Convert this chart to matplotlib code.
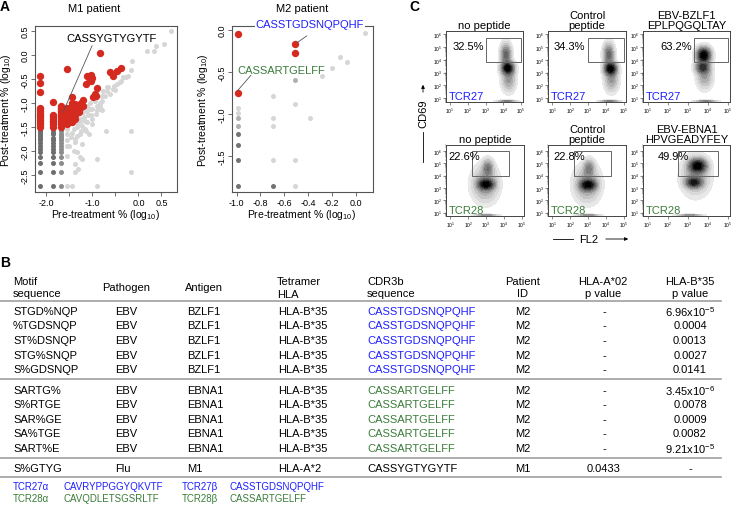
import numpy as np
import matplotlib
matplotlib.use('Agg')
import matplotlib.pyplot as plt
from matplotlib.patches import Rectangle
from matplotlib.ticker import LogLocator, NullFormatter

plt.rcParams['font.family'] = ['Liberation Sans', 'DejaVu Sans']
plt.rcParams['axes.unicode_minus'] = False
plt.rcParams['mathtext.fontset'] = 'custom'
plt.rcParams['mathtext.rm'] = 'Liberation Sans'
plt.rcParams['mathtext.it'] = 'Liberation Sans:italic'
plt.rcParams['mathtext.bf'] = 'Liberation Sans:bold'

W, H = 739, 506
RED = '#d42a20'
BLUE = '#1f1fff'
GREEN = '#3b7d3b'

#----------Panel A: M1 patient (log10 %)----------#
m1_red_pre = [-2.15] * 14 + [-1.85] * 8 + [-1.68] * 12 + [-1.55] * 8 + [-1.45] * 7 + [-1.37] * 5 \
    + [-1.30] * 3 + [-1.25, -1.25, -1.20, -1.20, -1.15, -1.11, -1.07, -1.04, -1.04, -1.00,
                     -0.98, -0.93, -0.90, -0.94, -0.84, -0.62, -0.55, -0.47, -0.38]
m1_red_post = [-0.44, -0.58, -0.77, -1.10, -1.13, -1.16, -1.20, -1.24, -1.28, -1.31, -1.35, -1.40, -1.44, -1.49,
               -0.98, -1.25, -1.29, -1.33, -1.37, -1.40, -1.44, -1.49,
               -1.06, -1.10, -1.13, -1.16, -1.20, -1.24, -1.28, -1.31, -1.35, -1.40, -1.44, -1.49,
               -0.29, -1.10, -1.20, -1.28, -1.33, -1.37, -1.40, -1.44,
               -0.88, -0.99, -1.06, -1.13, -1.24, -1.33, -1.40,
               -1.02, -1.09, -1.16, -1.26, -1.33,
               -1.06, -1.12, -1.19,
               -0.99, -1.09, -0.93, -1.06, -0.60, -0.43, -0.47, -0.42, -0.54, -0.47,
               -0.88, -0.86, -0.68, -0.82, 0.04, -0.36, -0.43, -0.33, -0.28]

m1_dark_pre = [-2.15] * 15 + [-1.85] * 13
m1_dark_post = [-1.55, -1.58, -1.61, -1.65, -1.69, -1.73, -1.78, -1.83, -1.89, -1.95, -2.03, -2.13, -2.25, -2.43, -2.73,
                -1.55, -1.61, -1.65, -1.73, -1.78, -1.83, -1.89, -1.95, -2.03, -2.13, -2.25, -2.43, -2.73]
m1_mid_pre = [-1.68] * 14
m1_mid_post = [-1.55, -1.58, -1.65, -1.69, -1.73, -1.78, -1.83, -1.89, -1.95, -2.03, -2.13, -2.25, -2.43, -2.73]

m1_light_pre = [-1.55, -1.55, -1.55, -1.55, -1.55, -1.55, -1.45, -1.45, -1.47, -1.51, -1.40, -1.40,
                -1.37, -1.37, -1.38, -1.38, -1.33, -1.33, -1.33, -1.31, -1.31, -1.27, -1.27, -1.27,
                -1.26, -1.26, -1.22, -1.22, -1.22, -1.20, -1.18, -1.18, -1.16, -1.16, -1.15, -1.13,
                -1.11, -1.11, -1.09, -1.08, -1.05, -1.05, -1.04, -1.02, -1.00, -1.00, -0.95, -0.93,
                -0.91, -0.90, -0.90, -0.91, -0.84, -0.84, -0.82, -0.80, -0.80, -0.79, -0.77, -0.73,
                -0.71, -0.69, -0.69, -0.66, -0.62, -0.55, -0.53, -0.51, -0.46, -0.40, -0.37, -0.33,
                -0.27, -0.22, -0.16, -0.15, -0.16, -0.16, 0.18, 0.34, 0.37, 0.55, 0.71]
m1_light_post = [-1.55, -1.65, -1.78, -1.89, -2.10, -2.73, -2.73, -1.62, -1.71, -1.89, -1.54, -1.99,
                 -1.82, -2.44, -1.75, -2.27, -1.51, -1.68, -2.03, -1.44, -2.38, -1.33, -1.65, -2.13,
                 -1.37, -1.58, -1.47, -1.85, -2.17, -1.19, -1.09, -1.30, -1.37, -1.54, -1.58, -1.06,
                 -1.16, -1.40, -1.26, -1.65, -0.99, -1.13, -1.26, -1.33, -1.13, -1.44, -0.95, -1.23,
                 -1.14, -1.06, -2.17, -2.73, -0.99, -1.04, -1.13, -0.85, -0.95, -1.15, -0.74, -0.85,
                 -1.59, -0.67, -0.74, -0.67, -0.81, -0.71, -0.64, -0.73, -0.60, -0.57, -0.54, -0.46,
                 -0.46, -0.43, -0.31, -0.12, -1.59, -2.43, 0.08, 0.08, 0.19, 0.22, 0.51]

#----------Panel A: M2 patient (log10 %)----------#
m2_red_pre = [-0.99, -0.51, -0.51, -0.99]
m2_red_post = [-0.05, -0.17, -0.27, -0.75]
m2_dark_pre = [-0.99, -0.99, -0.99, -0.99, -0.69]
m2_dark_post = [-1.24, -1.37, -1.55, -1.86, -1.86]
m2_mid_pre = [-0.99, -0.99, -0.51]
m2_mid_post = [-1.14, -1.05, -0.60]
m2_light_pre = [-0.99, -0.99, -0.69, -0.69, -0.69, -0.69, -0.51, -0.51, -0.51, -0.38, -0.28, -0.20, -0.13, -0.07, 0.08]
m2_light_post = [-0.93, -0.99, -0.79, -1.05, -1.14, -1.55, -0.88, -1.55, -1.86, -1.05, -0.55, -0.45, -0.32, -0.38, -0.04]

#----------Panel C: flow plots----------#
flow_titles = ['no peptide', 'Control\npeptide', 'EBV-BZLF1\nEPLPQGQLTAY',
               'no peptide', 'Control\npeptide', 'EBV-EBNA1\nHPVGEADYFEY']
flow_pcts = ['32.5%', '34.3%', '63.2%', '22.6%', '22.8%', '49.9%']
flow_tcr = ['TCR27', 'TCR27', 'TCR27', 'TCR28', 'TCR28', 'TCR28']
gate_x0 = [3.05, 3.0, 3.3, 2.2, 2.2, 2.5]
gate_x1 = [5.0, 5.0, 5.0, 4.3, 4.3, 4.5]
gate_y0 = [3.8, 3.8, 3.8, 4.0, 4.0, 4.0]
gate_y1 = [5.75, 5.75, 5.75, 6.0, 6.0, 6.0]
# density blobs (log10 FL2, log10 CD69, spread x, spread y, weight)
blob_panel = [0, 0, 0, 0, 1, 1, 1, 1, 2, 2, 2, 2, 3, 3, 3, 3, 4, 4, 4, 4, 5, 5, 5, 5]
blob_x = [4.25, 4.15, 4.3, 4.2, 4.25, 4.15, 4.3, 4.2, 3.8, 3.75, 3.85, 3.9,
          3.0, 2.95, 3.1, 3.0, 3.0, 2.95, 3.05, 3.0, 3.5, 3.3, 3.4, 3.1]
blob_y = [3.35, 4.4, 2.5, 0.76, 3.3, 4.4, 2.5, 0.76, 4.35, 3.4, 2.7, 0.76,
          3.3, 3.3, 4.6, 0.8, 3.25, 3.3, 4.6, 0.8, 4.8, 3.45, 4.0, 0.8]
blob_sx = [0.2, 0.17, 0.22, 0.3, 0.2, 0.17, 0.22, 0.3, 0.2, 0.2, 0.22, 0.3,
           0.26, 0.4, 0.18, 0.35, 0.26, 0.4, 0.18, 0.35, 0.25, 0.24, 0.38, 0.35]
blob_sy = [0.28, 0.5, 0.55, 0.04, 0.28, 0.5, 0.55, 0.04, 0.35, 0.28, 0.55, 0.04,
           0.26, 0.8, 0.4, 0.04, 0.26, 0.8, 0.4, 0.04, 0.32, 0.25, 0.85, 0.04]
blob_w = [1.0, 0.45, 0.25, 0.35, 1.0, 0.45, 0.25, 0.35, 1.0, 0.6, 0.2, 0.3,
          1.0, 0.3, 0.4, 0.35, 1.0, 0.3, 0.35, 0.35, 1.0, 0.75, 0.25, 0.3]

#----------Panel B: table----------#
motifs = ['STGD%NQP', '%TGDSNQP', 'ST%DSNQP', 'STG%SNQP', 'S%GDSNQP',
          'SARTG%', 'S%RTGE', 'SAR%GE', 'SA%TGE', 'SART%E', 'S%GTYG']
pathogens = ['EBV'] * 10 + ['Flu']
antigens = ['BZLF1'] * 5 + ['EBNA1'] * 5 + ['M1']
tetramers = ['HLA-B*35'] * 10 + ['HLA-A*2']
cdr3b = ['CASSTGDSNQPQHF'] * 5 + ['CASSARTGELFF'] * 5 + ['CASSYGTYGYTF']
patients = ['M2'] * 10 + ['M1']
hla_a02 = ['-'] * 10 + ['0.0433']
hla_b35 = ['6.96x10$^{-5}$', '0.0004', '0.0013', '0.0027', '0.0141',
           '3.45x10$^{-6}$', '0.0078', '0.0009', '0.0082', '9.21x10$^{-5}$', '-']
tcr_alpha = ['TCR27\u03b1', 'TCR28\u03b1']
cdr3_alpha = ['CAVRYPPGGYQKVTF', 'CAVQDLETSGSRLTF']
tcr_beta = ['TCR27\u03b2', 'TCR28\u03b2']
cdr3_beta = ['CASSTGDSNQPQHF', 'CASSARTGELFF']


fig = plt.figure(figsize=(W / 100, H / 100), dpi=100)


def fp(x, y):
    return x / W, 1 - y / H


def axes_px(x0, y0, x1, y1):
    return fig.add_axes([x0 / W, 1 - y1 / H, (x1 - x0) / W, (y1 - y0) / H])


def txt(x, y, s, **kw):
    kw.setdefault('va', 'center')
    kw.setdefault('fontsize', 8)
    fig.text(*fp(x, y), s, **kw)


def r_axes(ax, xt, xl, yt):
    for s in ax.spines.values():
        s.set_color('#555555')
        s.set_linewidth(0.8)
    ax.tick_params(direction='out', length=3, width=0.6, color='#555555', labelsize=6.5, pad=1)
    ax.set_xticks(xt)
    ax.set_xticklabels(xl)
    ax.set_yticks(yt)
    ax.set_yticklabels(['%.1f' % v for v in yt], rotation=90, va='center')


# Panel letters
txt(5, 7, 'A', fontsize=10, fontweight='bold', ha='center')
txt(414, 7, 'C', fontsize=10, fontweight='bold', ha='center')
txt(5, 263, 'B', fontsize=10, fontweight='bold', ha='center')

#----------M1 scatter----------#
ax1 = axes_px(35, 27, 177, 193)
ax1.scatter(m1_light_pre, m1_light_post, s=13, color='#d6d6d6', lw=0, zorder=1)
ax1.scatter(m1_mid_pre, m1_mid_post, s=13, color='#8c8c8c', lw=0, zorder=2)
ax1.scatter(m1_dark_pre, m1_dark_post, s=13, color='#6e6e6e', lw=0, zorder=2)
ax1.scatter(m1_red_pre, m1_red_post, s=28, color=RED, lw=0, zorder=3)
ax1.set_xlim(-2.25, 0.837)
ax1.set_ylim(-2.854, 0.604)
r_axes(ax1, [-2.0, -1.5, -1.0, -0.5, 0.0, 0.5], ['-2.0', '', '-1.0', '', '0.0', '0.5'],
       [-2.5, -2.0, -1.5, -1.0, -0.5, 0.0, 0.5])
ax1.plot([-1.01, -1.64], [0.19, -1.19], color='#555555', lw=0.6, zorder=4)
ax1.text(-0.58, 0.35, 'CASSYGTYGYTF', fontsize=8, ha='center', va='center', zorder=5)
txt(94.5, 9, 'M1 patient', ha='center')
txt(106, 215, 'Pre-treatment % (log$_{10}$)', ha='center', fontsize=7.5)
txt(6, 110, 'Post-treatment % (log$_{10}$)', ha='center', rotation=90, fontsize=7.5)

#----------M2 scatter----------#
ax2 = axes_px(232, 27, 373, 193)
ax2.scatter(m2_light_pre, m2_light_post, s=13, color='#d6d6d6', lw=0, zorder=1)
ax2.scatter(m2_mid_pre, m2_mid_post, s=13, color='#b0b0b0', lw=0, zorder=2)
ax2.scatter(m2_dark_pre, m2_dark_post, s=13, color='#737373', lw=0, zorder=2)
ax2.scatter(m2_red_pre, m2_red_post, s=28, color=RED, lw=0, zorder=3)
ax2.set_xlim(-1.038, 0.147)
ax2.set_ylim(-1.929, 0.048)
r_axes(ax2, [-1.0, -0.8, -0.6, -0.4, -0.2, 0.0], ['-1.0', '-0.8', '-0.6', '-0.4', '-0.2', '0.0'],
       [-1.5, -1.0, -0.5, 0.0])
ax2.plot([-0.41, -0.49], [-0.07, -0.15], color='#555555', lw=0.6, zorder=4)
ax2.plot([-0.88, -0.99], [-0.54, -0.72], color='#555555', lw=0.6, zorder=4)
ax2.text(-0.84, 0.075, 'CASSTGDSNQPQHF', fontsize=8, color=BLUE, ha='left', va='center', zorder=5,
         clip_on=False, bbox=dict(facecolor='white', edgecolor='none', pad=0.5))
ax2.text(-0.99, -0.48, 'CASSARTGELFF', fontsize=8, color=GREEN, ha='left', va='center', zorder=5)
txt(302, 9, 'M2 patient', ha='center')
txt(302, 215, 'Pre-treatment % (log$_{10}$)', ha='center', fontsize=7.5)
txt(203, 110, 'Post-treatment % (log$_{10}$)', ha='center', rotation=90, fontsize=7.5)

#----------Panel C: flow density plots----------#
panel_boxes = [(446, 32, 523, 103), (548, 32, 626, 103), (643, 32, 730, 103),
               (446, 146, 524, 217), (548, 146, 626, 217), (643, 146, 730, 217)]
ylims = [(0.69, 6.26)] * 3 + [(0.73, 6.49)] * 3
gx = np.linspace(0.6, 5.3, 260)
gy = np.linspace(0.5, 6.6, 300)
GX, GY = np.meshgrid(gx, gy)
pct_x = [0.09, 0.07, 0.2, 0.03, 0.065, 0.17]
levels = [0.12, 0.2, 0.28, 0.36, 0.44, 0.52, 0.6, 0.68, 0.76, 0.84, 0.92, 1.01]

for i, (x0, y0, x1, y1) in enumerate(panel_boxes):
    ax = axes_px(x0, y0, x1, y1)
    Z = np.zeros_like(GX)
    for p, bx, by, sx, sy, w in zip(blob_panel, blob_x, blob_y, blob_sx, blob_sy, blob_w):
        if p == i:
            Z += w * np.exp(-0.5 * (((GX - bx) / sx) ** 2 + ((GY - by) / sy) ** 2))
    Z = (Z / Z.max()) ** 0.5
    ax.contourf(10 ** GX, 10 ** GY, Z, levels=levels, cmap='Greys', vmin=0.0, vmax=0.95, zorder=1)
    ax.set_xscale('log')
    ax.set_yscale('log')
    ax.set_xlim(10 ** 0.77, 10 ** 5.11)
    ax.set_ylim(10 ** ylims[i][0], 10 ** ylims[i][1])
    ax.set_xticks([10 ** k for k in range(1, 6)])
    ax.set_yticks([10 ** k for k in range(1, 7)])
    ax.xaxis.set_minor_locator(LogLocator(base=10, subs=np.arange(2, 10), numticks=20))
    ax.yaxis.set_minor_locator(LogLocator(base=10, subs=np.arange(2, 10), numticks=20))
    ax.xaxis.set_minor_formatter(NullFormatter())
    ax.yaxis.set_minor_formatter(NullFormatter())
    ax.tick_params(which='major', length=2, width=0.4, labelsize=3.5, pad=1, color='#333333')
    ax.tick_params(which='minor', length=1, width=0.3, color='#333333')
    for s in ax.spines.values():
        s.set_color('#444444')
        s.set_linewidth(0.7)
    ax.add_patch(Rectangle((10 ** gate_x0[i], 10 ** gate_y0[i]),
                           10 ** gate_x1[i] - 10 ** gate_x0[i], 10 ** gate_y1[i] - 10 ** gate_y0[i],
                           fill=False, edgecolor='#666666', lw=0.7, zorder=3))
    ax.text(pct_x[i], 0.79 if i < 3 else 0.85, flow_pcts[i], transform=ax.transAxes,
            fontsize=8, ha='left', va='center', zorder=4)
    ax.text(0.03, 0.08, flow_tcr[i], transform=ax.transAxes, fontsize=8,
            color=BLUE if i < 3 else GREEN, ha='left', va='center', zorder=4)
    ax.set_title(flow_titles[i], fontsize=8, pad=2.5, linespacing=0.95)

# CD69 / FL2 axis arrows
fig.text(*fp(423, 114), 'CD69', rotation=90, ha='center', va='center', fontsize=8)
fig.add_artist(plt.Line2D([423 / W, 423 / W], [1 - 163 / H, 1 - 133 / H], color='black', lw=0.6))
fig.add_artist(plt.Line2D([553 / W, 573 / W], [1 - 240 / H, 1 - 240 / H], color='black', lw=0.6))
plt.annotate('', xy=fp(423, 83), xytext=fp(423, 96), xycoords='figure fraction',
             arrowprops=dict(arrowstyle='-|>', lw=0.6, color='black', mutation_scale=5))
plt.annotate('', xy=fp(631, 240), xytext=fp(603, 240), xycoords='figure fraction',
             arrowprops=dict(arrowstyle='-|>', lw=0.6, color='black', mutation_scale=5))
txt(589, 240, 'FL2', ha='center')

#----------Panel B: table----------#
txt(13, 282, 'Motif')
txt(13, 294, 'sequence')
txt(102, 288, 'Pathogen')
txt(185, 288, 'Antigen')
txt(277, 282, 'Tetramer')
txt(277, 295, 'HLA')
txt(367, 282, 'CDR3b')
txt(367, 294, 'sequence')
txt(523, 282, 'Patient', ha='center')
txt(523, 294, 'ID', ha='center')
txt(603, 282, 'HLA-A*02', ha='center')
txt(603, 294, 'p value', ha='center')
txt(690, 282, 'HLA-B*35', ha='center')
txt(690, 294, 'p value', ha='center')

for ly in [302, 380, 459, 478]:
    fig.add_artist(plt.Line2D([0, 721 / W], [1 - ly / H, 1 - ly / H], color='#a0a0a0', lw=1.2))

row_y = [312, 326, 341, 356, 370, 391, 405, 420, 434, 449, 469]
cdr3_colors = [BLUE] * 5 + [GREEN] * 5 + ['black']
for j, ry in enumerate(row_y):
    txt(13, ry, motifs[j])
    txt(115, ry, pathogens[j])
    txt(187, ry, antigens[j])
    txt(278, ry, tetramers[j])
    txt(367, ry, cdr3b[j], color=cdr3_colors[j])
    txt(523, ry, patients[j], ha='center')
    txt(604, ry, hla_a02[j], ha='center')
    txt(690, ry, hla_b35[j], ha='center')

foot_colors = [BLUE, GREEN]
for j, fy in enumerate([487, 499]):
    txt(13, fy, tcr_alpha[j], fontsize=7, color=foot_colors[j])
    txt(63, fy, cdr3_alpha[j], fontsize=7, color=foot_colors[j])
    txt(182, fy, tcr_beta[j], fontsize=7, color=foot_colors[j])
    txt(230, fy, cdr3_beta[j], fontsize=7, color=foot_colors[j])

fig.savefig('out.png', dpi=100)
